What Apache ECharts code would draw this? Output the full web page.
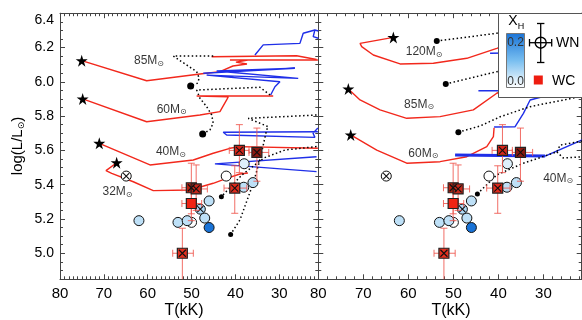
<!DOCTYPE html>
<html><head><meta charset="utf-8">
<script src="https://cdn.jsdelivr.net/npm/echarts@6/dist/echarts.min.js"></script>
<style>html,body{margin:0;padding:0;background:#fff}#c{width:582px;height:320px}</style>
</head><body><div id="c"></div>
<script>
// ---------- tick labels ----------
const xTickLabels = [80, 70, 60, 50, 40, 30];
const yTickLabels = [5.0, 5.2, 5.4, 5.6, 5.8, 6.0, 6.2, 6.4];

// ---------- observed stars (shared by both panels) ----------
// WN: [T(kK), logL, X_H]
const wnStars = [[50.0,5.18,0.0],[62.0,5.19,0.05],[53.1,5.18,0.05],[51.0,5.19,0.05],[48.0,5.257,0.06],[46.0,5.305,0.05],[47.0,5.205,0.05],[46.0,5.15,0.2],[42.1,5.45,0.0],[38.0,5.522,0.03],[38.1,5.385,0.05],[36.0,5.412,0.05],[64.9,5.45,0.0]];
const wnBinary = [[48.0,5.257],[64.9,5.45]];
// WC: [T, logL, Tlo, Thi, logLlo, logLhi]
const wcStars = [[39.1,5.60,41.4,36.9,5.47,5.75],[35.1,5.588,36.9,32.4,5.42,5.73],[40.15,5.38,42.6,37.4,5.233,5.51],[50.05,5.382,52.2,47.9,5.23,5.525],[48.95,5.375,51.0,46.4,5.25,5.515],[50.05,5.29,52.2,47.7,5.19,5.36],[52.1,5.0,54.3,49.6,4.70,5.146]];
const wcBinary = [1,1,1,1,1,0,1];

// ---------- left panel tracks ----------
const L85red = [[75.05,6.123],[60.24,6.006],[48.09,6.045],[43.53,6.059],[40.57,6.092],[37.37,6.104],[39.88,6.115],[37.15,6.127],[41.25,6.127],[21.2,6.127]];
const L85red2 = [[45.42,6.146],[26.05,6.152],[21.5,6.13]];
const L85blue = [[35.55,6.156],[33.66,6.215],[25.29,6.224],[24.54,6.283],[21.88,6.302],[21.1,6.296]];
const L85blue2 = [[21.88,6.302],[22.26,6.263],[21.1,6.254]];
const L85dot = [[45.06,6.150],[54.17,6.150],[51.12,6.098],[48.84,6.059],[48.25,6.020],[48.70,5.991],[50.21,5.975]];
const L60red = [[74.83,5.90],[60.24,5.767],[48.09,5.806],[43.53,5.826],[42.0,5.894],[41.64,5.912],[48.84,5.917],[31.38,5.917]];
const L60blue = [[31.97,5.923],[30.99,5.971],[29.85,6.0],[46.56,6.039],[25.68,6.020],[44.28,6.063],[26.43,6.079],[47.33,6.05]];
const L60dot = [[32.1,5.923],[34.41,5.968],[48.84,5.952],[48.09,5.904],[46.56,5.855],[45.42,5.807],[45.06,5.758],[45.81,5.719],[47.47,5.696]];
const L40red = [[71.04,5.641],[59.48,5.515],[49.61,5.544],[45.06,5.583],[41.25,5.612],[38.97,5.622],[21.2,5.612]];
const L40blue = [[21.2,5.709],[42.78,5.706],[42.0,5.690],[21.87,5.676],[22.3,5.70],[21.2,5.73]];
const L40dot = [[21.5,5.806],[37.08,5.787],[32.52,5.738],[32.88,5.719],[34.41,5.545],[35.94,5.408],[38.97,5.194],[41.09,5.11]];
const L32red = [[67.08,5.528],[69.51,5.482],[68.21,5.466],[63.29,5.417],[58.73,5.365],[50.37,5.369],[45.06,5.408],[42.0,5.437],[38.97,5.462],[37.15,5.468]];
const L32blue = [[21.5,5.563],[44.67,5.521],[44.29,5.515],[21.5,5.476]];
const L32dot = [[21.5,5.622],[28.71,5.602],[33.5,5.556],[38.5,5.457],[43.2,5.33]];
const leftEnds = [[50.21,5.975],[47.47,5.696],[43.2,5.33],[41.09,5.11]];
const leftZams = [[75.05,6.123],[74.83,5.90],[71.04,5.641],[67.08,5.528]];
const leftMassLabels = [['85',59.71,6.123],['60',54.54,5.84],['40',54.7,5.592],['32',66.89,5.359]];

// ---------- right panel tracks ----------
const R120red = [[63.33,6.259],[70.73,6.224],[70.36,6.205],[67.78,6.156],[61.84,6.104],[54.44,6.108],[47.02,6.137],[40.36,6.195],[35.2,6.244]];
const R85red = [[73.33,5.958],[70.73,5.894],[66.29,5.836],[60.36,5.787],[52.96,5.797],[45.56,5.836],[40.36,5.933],[37.0,5.97]];
const R60red = [[72.8,5.69],[67.02,5.602],[60.36,5.525],[52.96,5.534],[47.02,5.563],[42.58,5.622],[41.11,5.68],[40.96,5.731]];
const R60blue = [[40.96,5.736],[36.29,5.738],[34.44,5.816],[32.96,5.894],[21.85,5.971]];
const R40blueThick = [[49.62,5.573],[29.62,5.567]];
const R40blue = [[29.62,5.567],[21.4,5.661]];
const R120blue = [[41.85,6.166],[37.4,6.168]];
const R85blue = [[44.44,5.948],[37.4,5.948]];
const R120dot = [[53.69,6.238],[40.36,6.283],[35.0,6.31]];
const R85dot = [[51.69,5.987],[40.36,6.059],[35.0,6.09]];
const R60dot = [[48.89,5.706],[44.07,5.742],[39.62,5.796],[32.96,5.855],[21.85,5.913]];
const R40dot = [[44.67,5.346],[40.36,5.457],[34.44,5.525],[27.02,5.591],[26.29,5.631],[21.4,5.655]];
const R40dot2 = [[27.02,5.591],[25.62,5.556],[21.4,5.562]];
const rightEnds = [[53.69,6.238],[51.69,5.987],[48.89,5.706],[44.67,5.346]];
const rightZams = [[63.33,6.259],[73.33,5.958],[72.8,5.69]];
const rightMassLabels = [['120',56.51,6.176],['85',57.62,5.869],['60',56.67,5.583],['40',26.73,5.437]];

// ---------- styles ----------
const FONT = '"Liberation Sans", Arial, Helvetica, sans-serif';
const AX = '#444';
const RED = '#f2281c', BLUE = '#1f2fe8';
const wcFill = ['#d8261a','#8e1a10','#e02a1c','#b5200f','#c8271a','#f02414','#e3301f'];
const leftEndSizes = [7,7,5,5];
const rightEndSizes = [6,6,6,5];
const xhStops = [[0,[255,255,255]],[0.03,[222,239,251]],[0.05,[190,224,247]],[0.1,[120,190,240]],[0.2,[25,115,215]]];
function xhColor(x){
  for(let i=1;i<xhStops.length;i++){
    if(x<=xhStops[i][0]){
      const a=xhStops[i-1],b=xhStops[i],t=(x-a[0])/(b[0]-a[0]);
      const c=a[1].map((v,k)=>Math.round(v+(b[1][k]-v)*t));
      return 'rgb('+c.join(',')+')';
    }
  }
  const c=xhStops[xhStops.length-1][1]; return 'rgb('+c.join(',')+')';
}
function minorTicks(lo,hi,step,majorEvery){
  const out=[]; const n0=Math.ceil(lo/step-1e-9), n1=Math.floor(hi/step+1e-9);
  for(let k=n0;k<=n1;k++){ if(k%majorEvery!==0) out.push(+(k*step).toFixed(3)); }
  return out;
}
const XMIN = [21.1, 21.5], YMIN = 4.848, YMAX = 6.4;
const xMinor = [minorTicks(22,79,1,10), minorTicks(22,79,2,5)];
const yMinor = minorTicks(4.85,6.35,0.05,4);

function xAx(gi,pos,major,vals,labels){
  return {type:'value',gridIndex:gi,position:pos,min:XMIN[gi],max:80,inverse:true,
    axisLine:{show:major,onZero:false,lineStyle:{color:AX,width:1}},
    splitLine:{show:false},
    axisTick:{show:true,inside:true,length:major?5:3,customValues:vals,lineStyle:{color:AX}},
    axisLabel:{show:labels,customValues:vals,margin:7,color:'#000',fontSize:15,fontFamily:FONT}};
}
function yAx(gi,pos,major,vals,labels){
  return {type:'value',gridIndex:gi,position:pos,min:YMIN,max:YMAX,
    axisLine:{show:major,onZero:false,lineStyle:{color:AX,width:1}},
    splitLine:{show:false},
    axisTick:{show:true,inside:true,length:major?5:3,customValues:vals,lineStyle:{color:AX}},
    axisLabel:{show:labels,customValues:vals,margin:6,color:'#000',fontSize:14,fontFamily:FONT,
      formatter:v=>Math.abs(v-6.4)<1e-6?'{t|6.4}':v.toFixed(1),
      rich:{t:{fontSize:14,fontFamily:FONT,color:'#000',padding:[14,0,0,0]}}}};
}
const xAxes=[], yAxes=[];
for(let gi=0;gi<2;gi++){
  xAxes.push(xAx(gi,'bottom',true,xTickLabels,true), xAx(gi,'bottom',false,xMinor[gi],false),
             xAx(gi,'top',true,xTickLabels,false), xAx(gi,'top',false,xMinor[gi],false));
  yAxes.push(yAx(gi,'left',true,yTickLabels,gi===0), yAx(gi,'left',false,yMinor,false),
             yAx(gi,'right',true,yTickLabels,false), yAx(gi,'right',false,yMinor,false));
}

const series=[];
function ax(gi){return {xAxisIndex:gi*4,yAxisIndex:gi*4};}
function addLine(gi,data,color,width,dotted){
  series.push(Object.assign({type:'line',data:data,symbol:'none',silent:true,clip:true,z:2,
    lineStyle:{color:color,width:width,type:dotted?[1.5,2.5]:'solid'}},ax(gi)));
}
function addScatter(gi,data,opt){
  series.push(Object.assign({type:'scatter',data:data,silent:true,clip:true},opt,ax(gi)));
}
const STAR='path://M50,2 L61,36 L97,36 L68,57 L79,92 L50,70 L21,92 L32,57 L3,36 L39,36 Z';
const XPATH='path://M0,0L10,10M10,0L0,10';
function errItem(params,api){
  const T=api.value(0),L=api.value(1);
  const p0=api.coord([T,api.value(4)]),p1=api.coord([T,api.value(5)]);
  const q0=api.coord([api.value(2),L]),q1=api.coord([api.value(3),L]);
  const c=3.5,st={stroke:'rgba(238,85,75,0.85)',lineWidth:1};
  const seg=(x1,y1,x2,y2)=>({type:'line',shape:{x1:x1,y1:y1,x2:x2,y2:y2},style:st});
  return {type:'group',children:[
    seg(p0[0],p0[1],p1[0],p1[1]),seg(p0[0]-c,p0[1],p0[0]+c,p0[1]),seg(p1[0]-c,p1[1],p1[0]+c,p1[1]),
    seg(q0[0],q0[1],q1[0],q1[1]),seg(q0[0],q0[1]-c,q0[0],q0[1]+c),seg(q1[0],q1[1]-c,q1[0],q1[1]+c)]};
}
function addObs(gi){
  addScatter(gi,wnStars,{symbol:'circle',symbolSize:10,z:5,
    itemStyle:{color:p=>xhColor(p.value[2]),borderColor:'#111',borderWidth:1,opacity:1}});
  addScatter(gi,wnBinary,{symbol:XPATH,symbolSize:6,z:6,
    itemStyle:{color:'rgba(0,0,0,0)',borderColor:'#111',borderWidth:1.1,opacity:1}});
  series.push(Object.assign({type:'custom',data:wcStars,renderItem:errItem,clip:true,silent:true,z:7,encode:{x:0,y:1}},ax(gi)));
  addScatter(gi,wcStars.map(d=>[d[0],d[1]]),{symbol:'rect',symbolSize:10,z:8,
    itemStyle:{color:p=>wcFill[p.dataIndex],borderColor:'#222',borderWidth:1.2,opacity:1}});
  addScatter(gi,wcStars.filter((d,i)=>wcBinary[i]).map(d=>[d[0],d[1]]),{symbol:XPATH,symbolSize:7,z:9,
    itemStyle:{color:'rgba(0,0,0,0)',borderColor:'#111',borderWidth:1.1,opacity:1}});
}
function addLabels(gi,labels){
  addScatter(gi,labels.map(l=>[l[1],l[2],l[0]]),{symbol:'circle',symbolSize:0,z:4,
    label:{show:true,position:'inside',align:'center',verticalAlign:'middle',
      formatter:p=>'{a|'+p.value[2]+'M}{s|⊙}',
      rich:{a:{fontSize:12,fontFamily:FONT,color:'#000',lineHeight:14},
            s:{fontSize:8,fontFamily:'"DejaVu Sans", sans-serif',color:'#000',lineHeight:10,verticalAlign:'bottom'}}}});
}
// left panel
[L85red,L85red2,L60red,L40red,L32red].forEach(d=>addLine(0,d,RED,1.4,false));
[L85blue,L85blue2,L60blue,L40blue,L32blue].forEach(d=>addLine(0,d,BLUE,1.4,false));
[L85dot,L60dot,L40dot,L32dot].forEach(d=>addLine(0,d,'#000',1.5,true));
addScatter(0,leftEnds,{symbol:'circle',symbolSize:(v,p)=>leftEndSizes[p.dataIndex],z:3,itemStyle:{color:'#000',opacity:1}});
addScatter(0,leftZams,{symbol:STAR,symbolSize:12,z:3,itemStyle:{color:'#000',opacity:1}});
addLabels(0,leftMassLabels);
addObs(0);
// right panel
[R120red,R85red,R60red].forEach(d=>addLine(1,d,RED,1.4,false));
[R60blue,R120blue,R85blue,R40blue].forEach(d=>addLine(1,d,BLUE,1.4,false));
addLine(1,R40blueThick,BLUE,3,false);
[R120dot,R85dot,R60dot,R40dot,R40dot2].forEach(d=>addLine(1,d,'#000',1.5,true));
addScatter(1,rightEnds,{symbol:'circle',symbolSize:(v,p)=>rightEndSizes[p.dataIndex],z:3,itemStyle:{color:'#000',opacity:1}});
addScatter(1,rightZams,{symbol:STAR,symbolSize:12,z:3,itemStyle:{color:'#000',opacity:1}});
addLabels(1,rightMassLabels);
addObs(1);

// ---------- legend & titles (graphic) ----------
const G=100;
const gradStops=xhStops.map(s=>({offset:1-s[0]/0.2,color:'rgb('+s[1].join(',')+')'})).reverse();
const blk={stroke:'#000',lineWidth:1.3};
const graphic=[
  {type:'rect',shape:{x:498.5,y:13.5,width:95,height:84},style:{fill:'#fff',stroke:'#555',lineWidth:1},z:G},
  {type:'text',x:513,y:21,style:{text:'X',font:'14px '+FONT,fill:'#000',align:'center',verticalAlign:'middle'},z:G+1},
  {type:'text',x:521,y:27,style:{text:'H',font:'9px '+FONT,fill:'#000',align:'center',verticalAlign:'middle'},z:G+1},
  {type:'rect',shape:{x:506.5,y:33.5,width:18,height:54},style:{fill:new echarts.graphic.LinearGradient(0,0,0,1,gradStops),stroke:'#777',lineWidth:1},z:G+1},
  {type:'text',x:515.5,y:43,style:{text:'0.2',font:'12px '+FONT,fill:'#333',align:'center',verticalAlign:'middle'},z:G+2},
  {type:'text',x:515.5,y:82,style:{text:'0.0',font:'12px '+FONT,fill:'#333',align:'center',verticalAlign:'middle'},z:G+2},
  {type:'line',shape:{x1:529.5,y1:42.7,x2:551.7,y2:42.7},style:blk,z:G+1},
  {type:'line',shape:{x1:529.5,y1:39,x2:529.5,y2:46.4},style:blk,z:G+1},
  {type:'line',shape:{x1:551.7,y1:39,x2:551.7,y2:46.4},style:blk,z:G+1},
  {type:'line',shape:{x1:540.7,y1:23.5,x2:540.7,y2:62.5},style:blk,z:G+1},
  {type:'line',shape:{x1:537,y1:23.5,x2:544.4,y2:23.5},style:blk,z:G+1},
  {type:'line',shape:{x1:537,y1:62.5,x2:544.4,y2:62.5},style:blk,z:G+1},
  {type:'circle',shape:{cx:540.7,cy:42.7,r:5.5},style:{fill:'rgba(0,0,0,0)',stroke:'#000',lineWidth:1.4},z:G+2},
  {type:'text',x:556,y:43,style:{text:'WN',font:'14px '+FONT,fill:'#000',align:'left',verticalAlign:'middle'},z:G+1},
  {type:'rect',shape:{x:533.8,y:75.5,width:9,height:9},style:{fill:'#ee1c10'},z:G+1},
  {type:'text',x:552,y:81,style:{text:'WC',font:'14px '+FONT,fill:'#000',align:'left',verticalAlign:'middle'},z:G+1},
  {type:'text',x:184,y:311,style:{text:'T(kK)',font:'16px '+FONT,fill:'#000',align:'center',verticalAlign:'middle'},z:G},
  {type:'text',x:451,y:311,style:{text:'T(kK)',font:'16px '+FONT,fill:'#000',align:'center',verticalAlign:'middle'},z:G},
  {type:'text',x:17.5,y:146,rotation:Math.PI/2,style:{text:'{a|log(L/L}{s|⊙}{a|)}',align:'center',verticalAlign:'middle',
    rich:{a:{fontSize:15,fontFamily:FONT,fill:'#000',color:'#000',lineHeight:17},s:{fontSize:9,fontFamily:'"DejaVu Sans", sans-serif',fill:'#000',color:'#000',lineHeight:11,verticalAlign:'bottom'}}},z:G}
];

const chart=echarts.init(document.getElementById('c'),null,{renderer:'canvas'});
chart.setOption({
  animation:false,
  backgroundColor:'#fff',
  grid:[{left:60,top:13.2,width:258.3,height:266.1},{left:318.3,top:13.2,width:263.4,height:266.1}],
  xAxis:xAxes, yAxis:yAxes, series:series, graphic:graphic
});
</script></body></html>
